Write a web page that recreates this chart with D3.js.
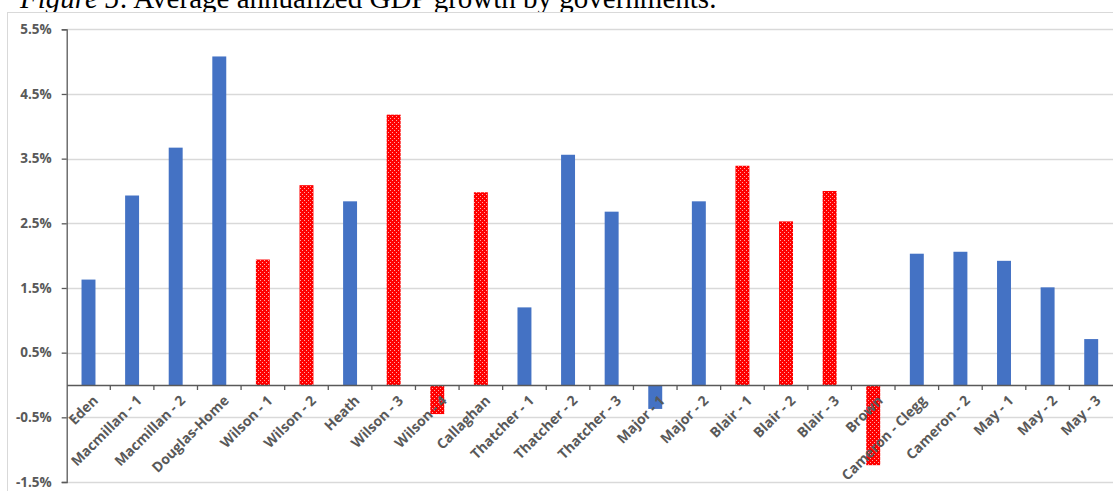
<!DOCTYPE html>
<html><head><meta charset="utf-8">
<script src="https://cdn.jsdelivr.net/npm/d3@7"></script>
<style>
html,body{margin:0;padding:0;background:#fff;overflow:hidden;}
</style></head>
<body>
<svg id="chart" width="1113" height="491"></svg>
<script>
const categories = ["Eden","Macmillan - 1","Macmillan - 2","Douglas-Home","Wilson - 1","Wilson - 2","Heath","Wilson - 3","Wilson - 4","Callaghan","Thatcher - 1","Thatcher - 2","Thatcher - 3","Major - 1","Major - 2","Blair - 1","Blair - 2","Blair - 3","Brown","Cameron - Clegg","Cameron - 2","May - 1","May - 2","May - 3"];
const growth = [1.63,2.93,3.67,5.08,1.94,3.09,2.84,4.18,-0.45,2.98,1.20,3.56,2.68,-0.37,2.84,3.39,2.53,3.00,-1.24,2.03,2.06,1.92,1.51,0.71];
const party = ["C","C","C","C","L","L","C","L","L","L","C","C","C","C","C","L","L","L","L","C","C","C","C","C"];
const yTicks = [-1.5,-0.5,0.5,1.5,2.5,3.5,4.5,5.5];
const titleItalic = "Figure 5";
const titleRest = ": Average annualized GDP growth by governments.";

const svg = d3.select("#chart");
const defs = svg.append("defs");
const pat = defs.append("pattern").attr("id","dots").attr("patternUnits","userSpaceOnUse")
  .attr("width",4).attr("height",4);
pat.append("rect").attr("width",4).attr("height",4).attr("fill","#ff0000");
pat.append("rect").attr("x",0).attr("y",0).attr("width",1).attr("height",1).attr("fill","#ffa8a8");
pat.append("rect").attr("x",2).attr("y",2).attr("width",1).attr("height",1).attr("fill","#ffa8a8");

// title
const t = svg.append("text").attr("x",20).attr("y",8)
  .attr("font-family","'Liberation Serif', 'Times New Roman', serif").attr("font-size",29).attr("fill","#000");
t.append("tspan").attr("font-style","italic").text(titleItalic);
t.append("tspan").text(titleRest);

// frame
svg.append("rect").attr("x",7.5).attr("y",12.5).attr("width",1120).attr("height",500)
  .attr("fill","#fff").attr("stroke","#d9d9d9").attr("stroke-width",1);

const x0 = 66.7, x1 = 1113;
const y = d3.scaleLinear().domain([-1.5,5.5]).range([482,29.3]);
const x = d3.scaleBand().domain(categories).range([x0,x1]).paddingInner(0.68).paddingOuter(0.34);

// gridlines
svg.append("g").selectAll("line").data(yTicks).join("line")
  .attr("x1",x0).attr("x2",1113).attr("y1",d=>Math.round(y(d))+0.5).attr("y2",d=>Math.round(y(d))+0.5)
  .attr("stroke","#d9d9d9").attr("stroke-width",1.3);

// bars
svg.append("g").selectAll("rect").data(categories).join("rect")
  .attr("x",(d)=>x(d)).attr("width",x.bandwidth())
  .attr("y",(d,i)=>y(Math.max(0,growth[i])))
  .attr("height",(d,i)=>Math.abs(y(growth[i])-y(0)))
  .attr("fill",(d,i)=>party[i]==="L"?"url(#dots)":"#4472c4");

// y axis
const yAxis = d3.axisLeft(y).tickValues(yTicks).tickFormat(d=>d.toFixed(1)+"%").tickSize(5).tickPadding(10);
const gy = svg.append("g").attr("transform",`translate(${x0},0)`).call(yAxis);
gy.select(".domain").attr("stroke","#595959").attr("stroke-width",1.3);
gy.selectAll(".tick line").attr("stroke","#595959").attr("stroke-width",1.3);
gy.selectAll(".tick text").attr("fill","#595959").attr("font-family","'Open Sans', sans-serif")
  .attr("font-size",13.5).attr("font-weight",700);

// x axis at zero
const y0 = y(0);
const xAxis = d3.axisBottom(x).tickSize(0).tickPadding(0);
const gx = svg.append("g").attr("transform",`translate(0,${y0})`).call(xAxis);
gx.select(".domain").attr("stroke","#595959").attr("stroke-width",1.3);
gx.selectAll(".tick text")
  .attr("font-family","'Open Sans', sans-serif").attr("font-size",14).attr("font-weight",700)
  .attr("fill","#595959")
  .attr("text-anchor","end").attr("dy","0.35em")
  .attr("transform","translate(7,13) rotate(-45)");
// boundary ticks
const step = x.step();
const bounds = d3.range(1, categories.length).map(i => x0 + i*step);
gx.append("g").selectAll("line").data(bounds).join("line")
  .attr("x1",d=>d).attr("x2",d=>d).attr("y1",0).attr("y2",5)
  .attr("stroke","#595959").attr("stroke-width",1.3);
</script>
</body></html>
